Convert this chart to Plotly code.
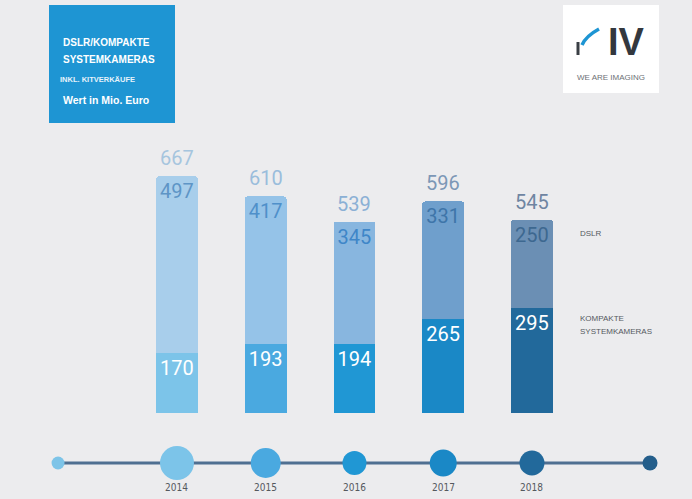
import plotly.graph_objects as go

# --- data (Mio. Euro) ---
years = ["2014", "2015", "2016", "2017", "2018"]
dslr = [497, 417, 345, 331, 250]
kompakt = [170, 193, 194, 265, 295]
totals = [667, 610, 539, 596, 545]

# --- styling ---
dslr_colors = ["#A8CEEB", "#95C3E8", "#88B6DF", "#6F9FCC", "#6B8FB4"]
dslr_text = ["#5E95C6", "#4F90CA", "#3F86C8", "#3E75A9", "#3D6890"]
kompakt_colors = ["#7CC4E9", "#4AA9E0", "#2097D4", "#1A88C6", "#22699B"]
total_text = ["#A6C5DE", "#9ABDDC", "#8BB0D5", "#7C97B6", "#6F85A2"]
dot_sizes = [34, 30, 24, 27, 25]
bg = "#ECECEE"
num_font = "Roboto"

xpos = list(range(len(years)))

fig = go.Figure()

# stacked bars: Kompakte Systemkameras (bottom) + DSLR (top)
fig.add_trace(go.Bar(
    x=xpos, y=kompakt, width=0.47,
    marker=dict(color=kompakt_colors, line=dict(width=0)),
    text=[str(v) for v in kompakt], textposition="inside",
    insidetextanchor="end", textangle=0,
    textfont=dict(family=num_font, size=20, color="#FFFFFF"),
    hoverinfo="skip", showlegend=False,
))
fig.add_trace(go.Bar(
    x=xpos, y=dslr, width=0.47,
    marker=dict(color=dslr_colors, line=dict(width=0)),
    text=[str(v) for v in dslr], textposition="inside",
    insidetextanchor="end", textangle=0,
    textfont=dict(family=num_font, size=20, color=dslr_text),
    hoverinfo="skip", showlegend=False,
))

annotations = []

# totals above each bar
for i, v in enumerate(totals):
    annotations.append(dict(
        x=xpos[i], y=v, xref="x", yref="y", text=str(v), showarrow=False,
        yanchor="bottom", yshift=4,
        font=dict(family=num_font, size=20, color=total_text[i]),
    ))

# timeline along the bottom
x_start, x_end = xpos[0] - 1.34, xpos[-1] + 1.33
fig.add_trace(go.Scatter(
    x=[x_start, x_end], y=[0, 0], mode="lines",
    line=dict(color="#4F6F91", width=3),
    xaxis="x", yaxis="y2", hoverinfo="skip", showlegend=False,
))
fig.add_trace(go.Scatter(
    x=[x_start] + xpos + [x_end], y=[0] * (len(xpos) + 2), mode="markers",
    marker=dict(size=[13] + dot_sizes + [15],
                color=["#7DC4E8"] + kompakt_colors + ["#245E8B"],
                line=dict(width=0), opacity=1),
    xaxis="x", yaxis="y2", hoverinfo="skip", showlegend=False,
))

for i, yr in enumerate(years):
    annotations.append(dict(
        x=xpos[i], y=-0.667, xref="x", yref="y2", text=yr, showarrow=False,
        font=dict(family="DejaVu Sans Condensed, DejaVu Sans", size=10, color="#55595E"),
    ))


def px(x, y):
    """pixel position -> paper coordinates"""
    return x / 692, 1 - y / 499


def note(x, y, text, size, color, bold=False, family="Liberation Sans", anchor="left"):
    ax, ay = px(x, y)
    annotations.append(dict(
        x=ax, y=ay, xref="paper", yref="paper", xanchor=anchor, yanchor="middle",
        text=f"<b>{text}</b>" if bold else text, showarrow=False,
        font=dict(family=family, size=size, color=color),
    ))


# title box
shapes = []
x0, y0 = px(49, 5)
x1, y1 = px(175, 123)
shapes.append(dict(type="rect", xref="paper", yref="paper", x0=x0, y0=y1, x1=x1, y1=y0,
                   fillcolor="#1E95D3", line=dict(width=0), layer="below"))
note(61, 43, "DSLR/KOMPAKTE", 10, "#FFFFFF", bold=True)
note(61, 59, "SYSTEMKAMERAS", 10, "#FFFFFF", bold=True)
note(58, 80, "INKL. KITVERKÄUFE", 7.5, "#E6F3FB", bold=True)
note(61, 100, "Wert in Mio. Euro", 10.5, "#FFFFFF", bold=True)

# logo box
x0, y0 = px(563, 5)
x1, y1 = px(659, 93)
shapes.append(dict(type="rect", xref="paper", yref="paper", x0=x0, y0=y1, x1=x1, y1=y0,
                   fillcolor="#FFFFFF", line=dict(width=0), layer="below"))
a0, b0 = px(578, 42)
a1, b1 = px(578, 55)
shapes.append(dict(type="line", xref="paper", yref="paper", x0=a0, y0=b0, x1=a1, y1=b1,
                   line=dict(color="#3A3F45", width=3)))
p = [px(582, 45), px(586, 36), px(599, 29)]
path = f"M {p[0][0]},{p[0][1]} Q {p[1][0]},{p[1][1]} {p[2][0]},{p[2][1]}"
shapes.append(dict(type="path", xref="paper", yref="paper", path=path,
                   line=dict(color="#1E95D3", width=3.5)))
note(626, 42, "IV", 38, "#33383E", bold=True, anchor="center")
note(611, 77, "WE ARE IMAGING", 8, "#6D7176", anchor="center")

# series labels on the right
note(578, 233, "DSLR", 8, "#55595E")
note(578, 318, "KOMPAKTE", 8, "#55595E")
note(578, 331, "SYSTEMKAMERAS", 8, "#55595E")

# bar axis: category centres at 177 + 88.75*i px, baseline at 413 px (0.355 px per unit)
fig.update_layout(
    width=692, height=499,
    margin=dict(l=0, r=0, t=0, b=0),
    paper_bgcolor=bg, plot_bgcolor=bg,
    barmode="stack", barcornerradius=3,
    xaxis=dict(range=[-1.994, 5.803], domain=[0, 1], visible=False, fixedrange=True),
    yaxis=dict(range=[-242.3, 1163.4], domain=[0, 1], visible=False, fixedrange=True),
    yaxis2=dict(range=[-1, 1], domain=[0, 0.1443], anchor="x", visible=False, fixedrange=True),
    shapes=shapes,
    annotations=annotations,
)

fig.write_html("out.html")
